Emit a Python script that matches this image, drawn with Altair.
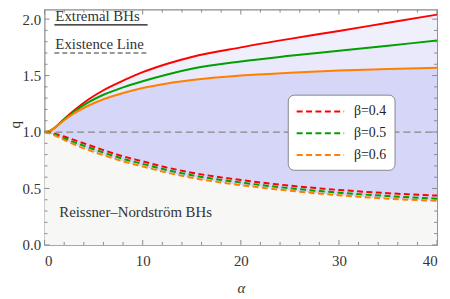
import altair as alt
import pandas as pd

# ---------------- data ----------------
alpha = [0, 0.5, 1, 1.5, 2, 3, 4.5, 6, 8, 10, 12.5, 15, 20, 25, 30, 35, 40]

# extremal (solid) curves
ext_04 = [1.0, 1.008, 1.035, 1.075, 1.115, 1.19, 1.29, 1.37, 1.455, 1.53, 1.605, 1.665, 1.75, 1.825, 1.895, 1.968, 2.04]
ext_05 = [1.0, 1.008, 1.035, 1.073, 1.11, 1.18, 1.265, 1.33, 1.395, 1.45, 1.51, 1.56, 1.625, 1.675, 1.72, 1.765, 1.81]
ext_06 = [1.0, 1.008, 1.035, 1.07, 1.105, 1.165, 1.235, 1.29, 1.345, 1.39, 1.43, 1.46, 1.50, 1.525, 1.545, 1.558, 1.57]

# existence (dashed) curves
exi_04 = [1.0, 0.995, 0.985, 0.973, 0.96, 0.93, 0.885, 0.84, 0.785, 0.74, 0.685, 0.64, 0.575, 0.525, 0.487, 0.458, 0.437]
exi_05 = [1.0, 0.992, 0.978, 0.962, 0.945, 0.91, 0.863, 0.818, 0.763, 0.718, 0.663, 0.618, 0.553, 0.502, 0.463, 0.433, 0.41]
exi_06 = [1.0, 0.988, 0.97, 0.95, 0.93, 0.89, 0.84, 0.795, 0.74, 0.695, 0.64, 0.595, 0.53, 0.48, 0.44, 0.41, 0.39]

labels = ["β=0.4", "β=0.5", "β=0.6"]
colors = ["#ff0000", "#00a000", "#ff8000"]

x_major = [0, 10, 20, 30, 40]
y_major = [0.0, 0.5, 1.0, 1.5, 2.0]
x_minor = [v for v in range(0, 41, 2) if v % 10 != 0]
y_minor = [round(v * 0.1, 1) for v in range(0, 21) if v % 5 != 0]

# annotations (top-left key and region label)
key_alpha = [1.0, 10.5]
key_extremal_q = [1.95, 1.95]
key_exist_q = [1.70, 1.70]
text_items = ["Extremal BHs", "Existence Line", "Reissner–Nordström BHs"]
text_alpha = [1.1, 1.1, 1.5]
text_q = [2.025, 1.775, 0.29]

# ---------------- chart ----------------
W, H = 397, 238
FONT = "Liberation Serif, DejaVu Serif, serif"
FRAME = "#8a8a8a"

xs = alt.Scale(domain=[0, 40], nice=False, zero=False)
ys = alt.Scale(domain=[0, 2.084], nice=False, zero=False)

xaxis = alt.Axis(values=x_major, format="d", ticks=False, domain=False, grid=False,
                 labelPadding=9, labelFontSize=15, labelFont=FONT, labelColor="#333",
                 title="α", titleFont=FONT, titleFontStyle="italic", titleFontWeight="normal",
                 titleFontSize=15, titleColor="#333", titlePadding=12)
yaxis = alt.Axis(values=y_major, format=".1f", ticks=False, domain=False, grid=False,
                 labelPadding=4, labelFontSize=15, labelFont=FONT, labelColor="#333",
                 title="q", titleFont=FONT, titleFontWeight="normal", titleFontSize=15,
                 titleColor="#333", titleX=-30, titleY=116, titleAngle=270,
                 titleAlign="center", titleBaseline="middle")


def X(field):
    return alt.X(field, type="quantitative", scale=xs, axis=xaxis)


def Y(field):
    return alt.Y(field, type="quantitative", scale=ys, axis=yaxis)


wide = pd.DataFrame({
    "a": alpha,
    "zero": [0.0] * len(alpha),
    "e4": ext_04, "e5": ext_05, "e6": ext_06,
    "x4": exi_04, "x5": exi_05, "x6": exi_06,
})

ext_long = pd.concat([
    pd.DataFrame({"a": alpha, "q": v, "beta": lab})
    for v, lab in zip([ext_04, ext_05, ext_06], labels)
])
exi_long = pd.concat([
    pd.DataFrame({"a": alpha, "q": v, "beta": lab})
    for v, lab in zip([exi_04, exi_05, exi_06], labels)
])

color_scale = alt.Scale(domain=labels, range=colors)
legend = alt.Legend(
    orient="none", legendX=246, legendY=86, title=None,
    symbolType="M-3,0H3", symbolDash=[6, 3.5], symbolStrokeWidth=2, symbolSize=256,
    symbolOffset=16,
    labelFont=FONT, labelFontSize=14, labelColor="#222", labelOffset=25,
    strokeColor="#888888", fillColor="white", cornerRadius=6, padding=8,
    rowPadding=6)

base = alt.Chart(wide)
rn_area = base.mark_area(color="#f7f7f5", interpolate="monotone").encode(
    x=X("a"), y=Y("zero"), y2="x6")
band_dark = base.mark_area(color="#d6d6f8", interpolate="monotone").encode(
    x=X("a"), y=Y("x6"), y2="e6")
band_mid = base.mark_area(color="#e9e9fb", interpolate="monotone").encode(
    x=X("a"), y=Y("e6"), y2="e5")
band_light = base.mark_area(color="#f0f0fd", interpolate="monotone").encode(
    x=X("a"), y=Y("e5"), y2="e4")

unit_line = alt.Chart(pd.DataFrame({"a": [0, 40], "q": [1.0, 1.0]})).mark_line(
    color="#888888", strokeWidth=1.3, strokeDash=[7, 4]).encode(x=X("a"), y=Y("q"))

ext_lines = alt.Chart(ext_long).mark_line(strokeWidth=2, interpolate="monotone").encode(
    x=X("a"), y=Y("q"),
    color=alt.Color("beta:N", scale=color_scale, legend=legend),
    detail="beta:N")

exi_lines = alt.Chart(exi_long).mark_line(strokeWidth=2, strokeDash=[6, 3.5],
                                          interpolate="monotone").encode(
    x=X("a"), y=Y("q"),
    color=alt.Color("beta:N", scale=color_scale, legend=legend))

key_ext = alt.Chart(pd.DataFrame({"a": key_alpha, "q": key_extremal_q})).mark_line(
    color="#111111", strokeWidth=1.3).encode(x=X("a"), y=Y("q"))
key_exi = alt.Chart(pd.DataFrame({"a": key_alpha, "q": key_exist_q})).mark_line(
    color="#999999", strokeWidth=2, strokeDash=[5, 3]).encode(x=X("a"), y=Y("q"))

texts = alt.Chart(pd.DataFrame({"a": text_alpha, "q": text_q, "t": text_items})).mark_text(
    font=FONT, fontSize=15, align="left", baseline="middle", color="#333").encode(
    x=X("a"), y=Y("q"), text="t:N")

# inward frame ticks
def xticks(vals, length):
    d = alt.Chart(pd.DataFrame({"a": vals}))
    bot = d.mark_rule(color=FRAME, strokeWidth=1).encode(
        x=X("a"), y=alt.value(H), y2=alt.value(H - length))
    top = d.mark_rule(color=FRAME, strokeWidth=1).encode(
        x=X("a"), y=alt.value(0), y2=alt.value(length))
    return [bot, top]


def yticks(vals, length):
    d = alt.Chart(pd.DataFrame({"q": vals}))
    left = d.mark_rule(color=FRAME, strokeWidth=1).encode(
        y=Y("q"), x=alt.value(0), x2=alt.value(length))
    right = d.mark_rule(color=FRAME, strokeWidth=1).encode(
        y=Y("q"), x=alt.value(W), x2=alt.value(W - length))
    return [left, right]


tick_layers = xticks(x_major, 5) + xticks(x_minor, 3) + yticks(y_major, 5) + yticks(y_minor, 3)

chart = alt.layer(
    rn_area, band_dark, band_mid, band_light, unit_line,
    ext_lines, exi_lines, key_ext, key_exi, texts, *tick_layers
).properties(
    width=W, height=H,
    autosize=alt.AutoSizeParams(type="none"),
    padding={"left": 37, "top": 0, "right": 5, "bottom": 50},
    background="white",
).configure_view(stroke=FRAME, strokeWidth=1.2)

chart.save("out.html", embed_options={"renderer": "svg", "actions": False})
